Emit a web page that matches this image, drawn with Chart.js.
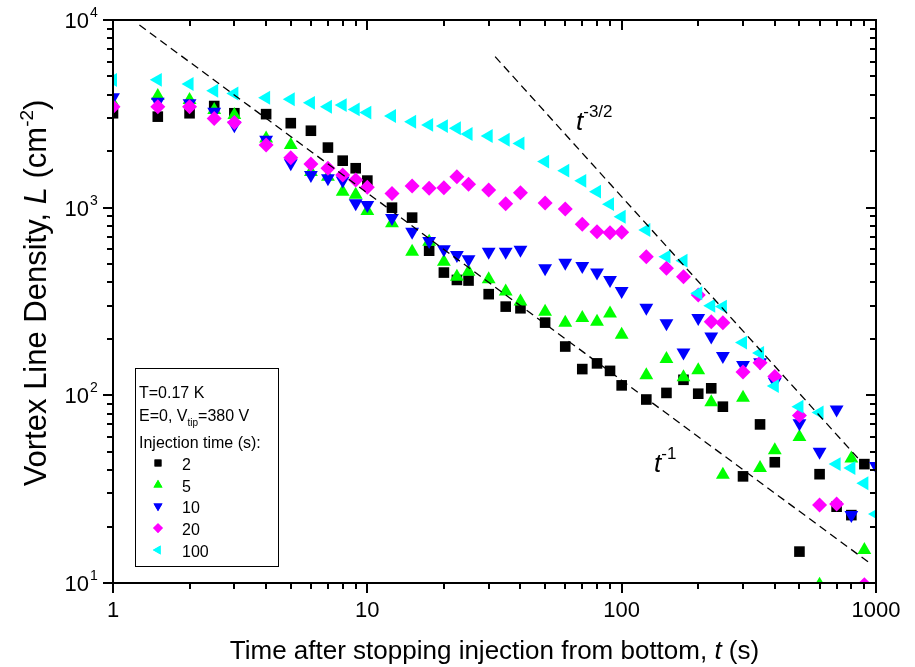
<!DOCTYPE html>
<html>
<head>
<meta charset="utf-8">
<script src="https://cdn.jsdelivr.net/npm/chart.js@4.4.1/dist/chart.umd.min.js"></script>
<style>
  html, body { margin: 0; padding: 0; background: #fff; }
  canvas { display: block; }
</style>
</head>
<body>
<canvas id="vortexChart" width="915" height="667"></canvas>
<script>
// time after stopping injection (s), shared by all series
const times = [1, 1.5, 2, 2.5, 3, 4, 5, 6, 7, 8, 9, 10,
  12.5, 15, 17.5, 20, 22.5, 25, 30, 35, 40,
  50, 60, 70, 80, 90, 100,
  125, 150, 175, 200, 225, 250,
  300, 350, 400, 500, 600, 700, 800, 900, 1000];

// vortex line density L (cm^-2) for each injection time, null = no point
const inj2 = [3185, 3055, 3185, 3480, 3185, 3150, 2820, 2570, 2090, 1780, 1622, 1394,
  1000, 885, 590, 451, 412, 409, 346, 297, 291,
  244, 182, 138, 148, 135, 113,
  95, 103, 121, 102, 109, 87,
  37, 70, 44, 14.7, 38, 25.5, 23, 43, null];
const inj5 = [3600, 3935, 3750, 3310, 3120, 2340, 2160, 1550, 1462, 1217, 1170, 960,
  826, 583, 659, 515, 429, 456, 415, 357, 316,
  279, 244, 258, 247, 273, 210,
  128, 156, 125, 136, 92, 37.7,
  97, 41, 51, 60, 9.8, null, 46, 15, null];
const inj10 = [3870, 3670, 3600, 3245, 2750, 2300, 1723, 1494, 1435, 1394, 1055, 1033,
  880, 745, 665, 600, 560, 531, 583, 583, 596,
  475, 509, 489, 451, 412, 360,
  293, 242, 169, 258, 206, 162,
  145, 150, 118, 71, 50, 84, 23, null, 42];
const inj20 = [3450, 3450, 3450, 2990, 2840, 2160, 1847, 1710, 1622, 1494, 1405, 1286,
  1190, 1306, 1268, 1278, 1462, 1334, 1243, 1050, 1202,
  1060, 985, 817, 745, 736, 740,
  548, 475, 429, 343, 247, 244,
  133, 149, 126, 78, 26, 26.4, null, 9.8, null];
const inj100 = [4790, 4800, 4560, 4200, 4060, 3850, 3780, 3620, 3450, 3520, 3340, 3210,
  3080, 2870, 2760, 2720, 2650, 2470, 2410, 2300, 2200,
  1760, 1575, 1390, 1217, 1044, 895,
  760, 548, 522, 350, 300, 297,
  191, 168, 112, 87, 81, 43, 41, 34, 23.3];

// dashed guide lines (end points)
const guide1T = [1.27, 935];
const guide1L = [9400, 12.9];
const guide32T = [31.8, 920];
const guide32L = [6380, 41];

// axis ticks
const xTickValues = [1, 10, 100, 1000];
const xTickLabels = ['1', '10', '100', '1000'];
const yTickValues = [10, 100, 1000, 10000];
const yTickExp = ['1', '2', '3', '4'];

const series = [
  { label: '2', values: inj2, color: '#000000', style: 'rect', rotation: 0, radius: 7.5 },
  { label: '5', values: inj5, color: '#00ff00', style: 'triangle', rotation: 0, radius: 8 },
  { label: '10', values: inj10, color: '#0000ff', style: 'triangle', rotation: 180, radius: 8 },
  { label: '20', values: inj20, color: '#ff00ff', style: 'rectRot', rotation: 0, radius: 7.5 },
  { label: '100', values: inj100, color: '#00ffff', style: 'triangle', rotation: -90, radius: 8 }
];

const FONT = "'Liberation Sans', Arial, Helvetica, sans-serif";

function toPoints(xs, ys) {
  const pts = [];
  xs.forEach((x, i) => {
    if (ys[i] !== null) pts.push({ x: x, y: ys[i] });
  });
  return pts;
}

function minorValues(decades) {
  const out = [];
  decades.forEach(d => {
    for (let k = 2; k <= 9; k++) out.push(d * k);
  });
  return out;
}

// draws a row of text pieces with different fonts / offsets
function drawPieces(ctx, pieces, x, y, align) {
  let total = 0;
  pieces.forEach(p => {
    ctx.font = p.font;
    p.w = ctx.measureText(p.text).width;
    total += p.w;
  });
  let cx = x;
  if (align === 'center') cx = x - total / 2;
  if (align === 'right') cx = x - total;
  ctx.textAlign = 'left';
  pieces.forEach(p => {
    ctx.font = p.font;
    ctx.fillText(p.text, cx, y + (p.dy || 0));
    cx += p.w;
  });
}

const decorPlugin = {
  id: 'decor',
  afterDatasetsDraw(chart) {
    const ctx = chart.ctx;
    const a = chart.chartArea;
    const xs = chart.scales.x;
    const ys = chart.scales.y;
    ctx.save();
    ctx.strokeStyle = '#000';
    ctx.fillStyle = '#000';
    ctx.lineWidth = 2;
    ctx.strokeRect(a.left, a.top, a.right - a.left, a.bottom - a.top);

    // tick marks: out on bottom/left, in on top/right
    const majorLen = 10, minorLen = 6;
    ctx.beginPath();
    const xMinor = minorValues([1, 10, 100]);
    const yMinor = minorValues([10, 100, 1000]);
    xTickValues.forEach(v => {
      const p = Math.round(xs.getPixelForValue(v));
      ctx.moveTo(p, a.bottom); ctx.lineTo(p, a.bottom + majorLen);
      ctx.moveTo(p, a.top); ctx.lineTo(p, a.top + majorLen);
    });
    xMinor.forEach(v => {
      const p = Math.round(xs.getPixelForValue(v));
      ctx.moveTo(p, a.bottom); ctx.lineTo(p, a.bottom + minorLen);
      ctx.moveTo(p, a.top); ctx.lineTo(p, a.top + minorLen);
    });
    yTickValues.forEach(v => {
      const p = Math.round(ys.getPixelForValue(v));
      ctx.moveTo(a.left, p); ctx.lineTo(a.left - majorLen, p);
      ctx.moveTo(a.right, p); ctx.lineTo(a.right - majorLen, p);
    });
    yMinor.forEach(v => {
      const p = Math.round(ys.getPixelForValue(v));
      ctx.moveTo(a.left, p); ctx.lineTo(a.left - minorLen, p);
      ctx.moveTo(a.right, p); ctx.lineTo(a.right - minorLen, p);
    });
    ctx.stroke();

    // tick labels
    ctx.textBaseline = 'alphabetic';
    ctx.font = '22px ' + FONT;
    ctx.textAlign = 'center';
    xTickValues.forEach((v, i) => {
      ctx.fillText(xTickLabels[i], xs.getPixelForValue(v), a.bottom + 34);
    });
    yTickValues.forEach((v, i) => {
      const p = ys.getPixelForValue(v);
      ctx.font = '22px ' + FONT;
      ctx.textAlign = 'right';
      ctx.fillText('10', 89, p + 8);
      ctx.font = '14px ' + FONT;
      ctx.textAlign = 'left';
      ctx.fillText(yTickExp[i], 90, p - 3);
    });

    // axis titles
    drawPieces(ctx, [
      { text: 'Time after stopping injection from bottom, ', font: '26px ' + FONT },
      { text: 't', font: 'italic 26px ' + FONT },
      { text: ' (s)', font: '26px ' + FONT }
    ], (a.left + a.right) / 2, 659, 'center');

    ctx.save();
    ctx.translate(46, 293);
    ctx.rotate(-Math.PI / 2);
    drawPieces(ctx, [
      { text: 'Vortex Line Density, ', font: '31px ' + FONT },
      { text: 'L', font: 'italic 31px ' + FONT },
      { text: ' (cm', font: '31px ' + FONT },
      { text: '-2', font: '19px ' + FONT, dy: -13 },
      { text: ')', font: '31px ' + FONT }
    ], 0, 0, 'center');
    ctx.restore();

    // power law labels
    drawPieces(ctx, [
      { text: 't', font: 'italic 26px ' + FONT },
      { text: '-3/2', font: '17px ' + FONT, dy: -13 }
    ], 576, 130, 'left');
    drawPieces(ctx, [
      { text: 't', font: 'italic 26px ' + FONT },
      { text: '-1', font: '17px ' + FONT, dy: -13 }
    ], 654, 472, 'left');

    // legend box
    ctx.lineWidth = 1;
    ctx.strokeRect(135.5, 368.5, 143, 198);
    ctx.font = '16px ' + FONT;
    ctx.textAlign = 'left';
    ctx.fillText('T=0.17 K', 139, 398);
    drawPieces(ctx, [
      { text: 'E=0, V', font: '16px ' + FONT },
      { text: 'tip', font: '10px ' + FONT, dy: 5 },
      { text: '=380 V', font: '16px ' + FONT }
    ], 139, 421, 'left');
    ctx.font = '16px ' + FONT;
    ctx.fillText('Injection time (s):', 139, 448);
    const rowY = [463, 485, 506, 528, 550];
    series.forEach((s, i) => {
      ctx.fillStyle = s.color;
      Chart.helpers.drawPoint(ctx, {
        pointStyle: s.style, rotation: s.rotation, radius: s.radius * 0.65, borderWidth: 0
      }, 158, rowY[i]);
      ctx.fill();
      ctx.fillStyle = '#000';
      ctx.font = '16px ' + FONT;
      ctx.fillText(s.label, 182, rowY[i] + 7);
    });
    ctx.restore();
  }
};

const datasets = [
  {
    data: toPoints(guide1T, guide1L), showLine: true, borderColor: '#000', borderWidth: 1.3,
    borderDash: [8, 5], pointRadius: 0, fill: false, clip: 0
  },
  {
    data: toPoints(guide32T, guide32L), showLine: true, borderColor: '#000', borderWidth: 1.3,
    borderDash: [8, 5], pointRadius: 0, fill: false, clip: 0
  }
];
// last injection time drawn on top
series.slice().reverse().forEach(s => {
  datasets.push({
    label: s.label,
    data: toPoints(times, s.values),
    pointStyle: s.style,
    rotation: s.rotation,
    pointRadius: s.radius,
    backgroundColor: s.color,
    borderColor: s.color,
    borderWidth: 0,
    pointBorderWidth: 0,
    showLine: false,
    clip: 0
  });
});

const ctx = document.getElementById('vortexChart').getContext('2d');
new Chart(ctx, {
  type: 'scatter',
  data: { datasets: datasets },
  options: {
    responsive: false,
    animation: false,
    devicePixelRatio: 1,
    layout: { padding: { top: 20, right: 39, left: 0, bottom: 0 } },
    plugins: { legend: { display: false }, tooltip: { enabled: false } },
    scales: {
      x: {
        type: 'logarithmic', min: 1, max: 1000,
        grid: { display: false }, border: { display: false },
        ticks: { display: false },
        afterFit: s => { s.height = 84; }
      },
      y: {
        type: 'logarithmic', min: 10, max: 10000,
        grid: { display: false }, border: { display: false },
        ticks: { display: false },
        afterFit: s => { s.width = 113; }
      }
    }
  },
  plugins: [decorPlugin]
});
</script>
</body>
</html>
